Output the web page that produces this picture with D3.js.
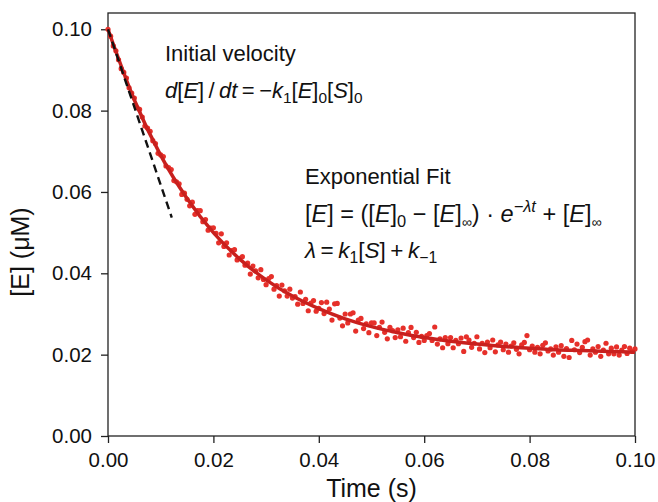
<!DOCTYPE html>
<html>
<head>
<meta charset="utf-8">
<script src="https://cdn.jsdelivr.net/npm/d3@7"></script>
<style>
  html, body { margin: 0; padding: 0; background: #fff; }
  svg text { font-family: "Liberation Sans", Arial, Helvetica, sans-serif; }
</style>
</head>
<body>
<div id="chart"></div>
<script>
// measured concentration, one reading every 0.5 ms starting at t = 0
const sampleStep = 0.0005
const measuredE = [
  0.1000,
  0.0983, 0.0959, 0.0947, 0.0925, 0.0903, 0.0894, 0.0880, 0.0856, 0.0843, 0.0831,
  0.0807, 0.0803, 0.0784, 0.0762, 0.0757, 0.0749, 0.0726, 0.0719, 0.0695, 0.0691,
  0.0687, 0.0664, 0.0660, 0.0655, 0.0628, 0.0625, 0.0620, 0.0594, 0.0597, 0.0582,
  0.0566, 0.0575, 0.0545, 0.0554, 0.0554, 0.0527, 0.0532, 0.0506, 0.0511, 0.0512,
  0.0498, 0.0475, 0.0497, 0.0466, 0.0475, 0.0445, 0.0456, 0.0458, 0.0433, 0.0437,
  0.0441, 0.0420, 0.0425, 0.0398, 0.0418, 0.0406, 0.0389, 0.0409, 0.0385, 0.0372,
  0.0387, 0.0392, 0.0361, 0.0370, 0.0344, 0.0371, 0.0357, 0.0344, 0.0361, 0.0339,
  0.0343, 0.0324, 0.0354, 0.0326, 0.0336, 0.0308, 0.0327, 0.0333, 0.0307, 0.0314,
  0.0328, 0.0301, 0.0329, 0.0312, 0.0285, 0.0325, 0.0326, 0.0290, 0.0271, 0.0300,
  0.0278, 0.0300, 0.0303, 0.0258, 0.0285, 0.0289, 0.0264, 0.0276, 0.0254, 0.0278,
  0.0278, 0.0247, 0.0267, 0.0280, 0.0255, 0.0239, 0.0267, 0.0259, 0.0242, 0.0261,
  0.0244, 0.0265, 0.0233, 0.0254, 0.0267, 0.0242, 0.0255, 0.0230, 0.0245, 0.0235,
  0.0247, 0.0252, 0.0235, 0.0268, 0.0226, 0.0239, 0.0217, 0.0242, 0.0227, 0.0242,
  0.0217, 0.0235, 0.0227, 0.0241, 0.0208, 0.0244, 0.0236, 0.0218, 0.0228, 0.0244,
  0.0214, 0.0228, 0.0205, 0.0231, 0.0217, 0.0236, 0.0207, 0.0224, 0.0231, 0.0212,
  0.0226, 0.0206, 0.0221, 0.0229, 0.0213, 0.0202, 0.0224, 0.0230, 0.0247, 0.0212,
  0.0221, 0.0206, 0.0218, 0.0202, 0.0223, 0.0229, 0.0209, 0.0214, 0.0199, 0.0219,
  0.0206, 0.0222, 0.0196, 0.0215, 0.0193, 0.0235, 0.0212, 0.0226, 0.0205, 0.0218,
  0.0232, 0.0236, 0.0199, 0.0214, 0.0206, 0.0220, 0.0196, 0.0211, 0.0228, 0.0202,
  0.0216, 0.0202, 0.0219, 0.0199, 0.0211, 0.0220, 0.0203, 0.0216, 0.0208, 0.0214
]

// exponential fit
const fitT = [0, 0.005, 0.01, 0.015, 0.02, 0.025, 0.03, 0.035, 0.04, 0.045, 0.05,
              0.055, 0.06, 0.065, 0.07, 0.075, 0.08, 0.085, 0.09, 0.095, 0.1]
const fitE = [0.1000, 0.0826, 0.0690, 0.0584, 0.0500, 0.0435, 0.0384, 0.0344, 0.0313, 0.0288, 0.0269,
              0.0254, 0.0242, 0.0233, 0.0226, 0.0220, 0.0216, 0.0212, 0.0210, 0.0208, 0.0206]

// initial velocity tangent (dashed)
const tangentT = [0, 0.0121]
const tangentE = [0.1000, 0.0537]

const xTicks = [0, 0.02, 0.04, 0.06, 0.08, 0.10]
const yTicks = [0, 0.02, 0.04, 0.06, 0.08, 0.10]

const width = 658, height = 502
const plot = { left: 108, right: 635, top: 13, bottom: 436 }

const svg = d3.select('#chart')
  .append('svg')
  .attr('width', width)
  .attr('height', height)

const x = d3.scaleLinear().domain([0, 0.1]).range([plot.left, plot.right])
const y = d3.scaleLinear().domain([0, 0.104]).range([plot.bottom, plot.top])

// axes
const xAxis = svg.append('g')
  .attr('transform', `translate(0, ${plot.bottom})`)
  .call(d3.axisBottom(x).tickValues(xTicks).tickFormat(d3.format('.2f')).tickSize(7).tickPadding(9))
const yAxis = svg.append('g')
  .attr('transform', `translate(${plot.left}, 0)`)
  .call(d3.axisLeft(y).tickValues(yTicks).tickFormat(d3.format('.2f')).tickSize(7).tickPadding(9))

;[xAxis, yAxis].forEach(a => {
  a.select('.domain').remove()
  a.selectAll('line').attr('stroke', '#222').attr('stroke-width', 1.3)
  a.selectAll('text')
    .attr('font-size', 20.5)
    .attr('fill', '#111')
    .style('font-family', '"Liberation Sans", Arial, sans-serif')
})

// frame
svg.append('rect')
  .attr('x', plot.left)
  .attr('y', plot.top)
  .attr('width', plot.right - plot.left)
  .attr('height', plot.bottom - plot.top)
  .attr('fill', 'none')
  .attr('stroke', '#222')
  .attr('stroke-width', 1.3)

// axis titles
svg.append('text')
  .attr('x', (plot.left + plot.right) / 2)
  .attr('y', 497)
  .attr('text-anchor', 'middle')
  .attr('font-size', 25)
  .attr('fill', '#111')
  .text('Time (s)')

svg.append('text')
  .attr('transform', `translate(29, 252) rotate(-90)`)
  .attr('text-anchor', 'middle')
  .attr('font-size', 25)
  .attr('fill', '#111')
  .text('[E] (\u03bcM)')

// data points
const points = measuredE.map((e, i) => ({ t: i * sampleStep, e }))
svg.append('g')
  .selectAll('circle')
  .data(points)
  .enter()
  .append('circle')
    .attr('cx', d => x(d.t))
    .attr('cy', d => y(d.e))
    .attr('r', 2.6)
    .attr('fill', '#e6302a')

// fit curve
const line = d3.line()
  .x(d => x(d[0]))
  .y(d => y(d[1]))

svg.append('path')
  .datum(fitT.map((t, i) => [t, fitE[i]]))
  .attr('d', line.curve(d3.curveMonotoneX))
  .attr('fill', 'none')
  .attr('stroke', '#c8201e')
  .attr('stroke-width', 3.5)

svg.append('path')
  .datum(tangentT.map((t, i) => [t, tangentE[i]]))
  .attr('d', line.curve(d3.curveLinear))
  .attr('fill', 'none')
  .attr('stroke', '#111')
  .attr('stroke-width', 2.4)
  .attr('stroke-dasharray', '8,5')

// annotations: segments [text, style] where style: i = italic, sub, sup
const mathText = (px, py, segs, size) => {
  const t = svg.append('text')
    .attr('x', px)
    .attr('y', py)
    .attr('font-size', size)
    .attr('fill', '#111')
  let shift = 0
  segs.forEach(([s, st]) => {
    st = st || ''
    const target = st.includes('sub') ? size * 0.23 : st.includes('sup') ? -size * 0.42 : 0
    const sp = t.append('tspan')
      .attr('dy', target - shift)
      .text(s)
    shift = target
    if (st.includes('i')) sp.attr('font-style', 'italic')
    if (target !== 0) sp.attr('font-size', size * (s === '\u221e' ? 0.6 : 0.7))
  })
}

svg.append('text')
  .attr('x', 165).attr('y', 61)
  .attr('font-size', 22).attr('fill', '#111')
  .text('Initial velocity')

mathText(165, 98, [
  ['d', 'i'], ['['], ['E', 'i'], [']\u2009/\u2009'], ['dt', 'i'], ['\u2009=\u2009\u2212'],
  ['k', 'i'], ['1', 'sub'], ['['], ['E', 'i'], [']'], ['0', 'sub'], ['['], ['S', 'i'], [']'], ['0', 'sub']
], 22)

svg.append('text')
  .attr('x', 305).attr('y', 184)
  .attr('font-size', 22).attr('fill', '#111')
  .text('Exponential Fit')

mathText(305, 222, [
  ['['], ['E', 'i'], ['] = (['], ['E', 'i'], [']'], ['0', 'sub'], [' \u2212 ['], ['E', 'i'], [']'],
  ['\u221e', 'sub'], [') \u00b7 '], ['e', 'i'], ['\u2212\u03bbt', 'i sup'], [' + ['], ['E', 'i'], [']'], ['\u221e', 'sub']
], 23.5)

mathText(305, 258, [
  ['\u03bb', 'i'], ['\u2009=\u2009'], ['k', 'i'], ['1', 'sub'], ['['], ['S', 'i'], [']\u2009+\u2009'], ['k', 'i'], ['\u22121', 'sub']
], 22.5)
</script>
</body>
</html>
